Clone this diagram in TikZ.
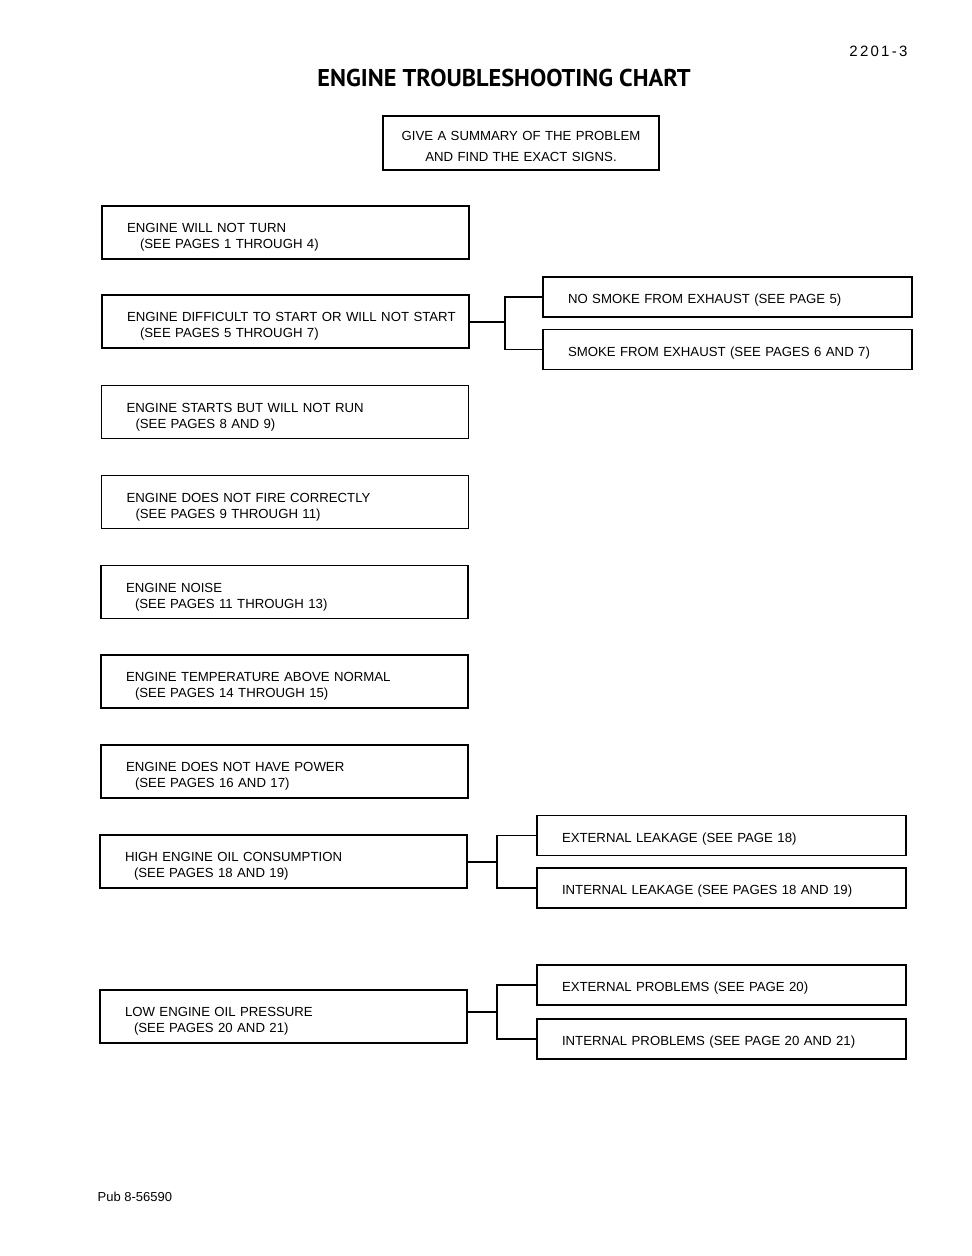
\documentclass[tikz,border=0pt]{standalone}
\usepackage{fontspec}
\setmainfont{Liberation Sans}
\newfontfamily\titlefont{PT Sans}
\begin{document}
\begin{tikzpicture}[x=1pt,y=-1pt,line width=1.2pt,
    box/.style={draw,rectangle,align=left,inner xsep=25pt,inner ysep=0pt,font=\fontsize{13.2}{16}\selectfont},
    leftbox/.style={box,text width=317pt,minimum height=53pt,execute at begin node={\rule{0pt}{19.5pt}}},
    rightbox/.style={box,text width=319pt,minimum height=40pt,execute at begin node={\rule{0pt}{16.5pt}}}]
    \useasboundingbox (0,0) rectangle (972,1256);

    \node[anchor=east,inner sep=0pt,font=\fontsize{15}{18}\selectfont\addfontfeature{LetterSpace=15}] (pagenum) at (908,51) {2201-3};
    \node[font=\titlefont\bfseries\fontsize{24.3}{28}\selectfont] (title) at (504,77.5) {ENGINE TROUBLESHOOTING CHART};
    \node[draw,align=center,text width=250pt,inner xsep=13pt,inner ysep=0pt,minimum height=54pt,font=\fontsize{13.2}{21}\selectfont,
        execute at begin node={\rule{0pt}{15.5pt}}] (summary) at (521,143) {GIVE A SUMMARY OF THE PROBLEM\\AND FIND THE EXACT SIGNS.};

    \foreach \n/\x/\y/\i/\a/\b in {
        1/285.5/232.5/13/ENGINE WILL NOT TURN/1 THROUGH 4,
        2/285.5/321.5/13/ENGINE DIFFICULT TO START OR WILL NOT START/5 THROUGH 7,
        3/285/412/9/ENGINE STARTS BUT WILL NOT RUN/8 AND 9,
        4/285/502/9/ENGINE DOES NOT FIRE CORRECTLY/9 THROUGH 11,
        5/284.5/592/9/ENGINE NOISE/11 THROUGH 13,
        6/284.5/681.5/9/ENGINE TEMPERATURE ABOVE NORMAL/14 THROUGH 15,
        7/284.5/771.5/9/ENGINE DOES NOT HAVE POWER/16 AND 17,
        8/283.5/861.5/9/HIGH ENGINE OIL CONSUMPTION/18 AND 19,
        9/283.5/1016.5/9/LOW ENGINE OIL PRESSURE/20 AND 21}{
        \node[leftbox] (lb\n) at (\x,\y) {\mbox{\a}\\\hspace*{\i pt}(SEE PAGES \b)};
    }

    \node[rightbox] (r1) at (727.5,297) {NO SMOKE FROM EXHAUST (SEE PAGE 5)};
    \node[rightbox] (r2) at (727.5,349.5) {SMOKE FROM EXHAUST (SEE PAGES 6 AND 7)};
    \node[rightbox] (r3) at (721.5,835.5) {EXTERNAL LEAKAGE (SEE PAGE 18)};
    \node[rightbox] (r4) at (721.5,888) {INTERNAL LEAKAGE (SEE PAGES 18 AND 19)};
    \node[rightbox] (r5) at (721.5,985) {EXTERNAL PROBLEMS (SEE PAGE 20)};
    \node[rightbox] (r6) at (721.5,1039) {INTERNAL PROBLEMS (SEE PAGE 20 AND 21)};

    \coordinate (j1) at (505,322);
    \coordinate (j2) at (497,862);
    \coordinate (j3) at (497,1012);

    \draw (j1 -| lb2.east) -- (j1);
    \draw (r1.west) -| (j1) |- (r2.west);
    \draw (j2 -| lb8.east) -- (j2);
    \draw (r3.west) -| (j2) |- (r4.west);
    \draw (j3 -| lb9.east) -- (j3);
    \draw (r5.west) -| (j3) |- (r6.west);

    \node[anchor=west,inner sep=0pt,font=\fontsize{13}{16}\selectfont] (pub) at (97,1197) {Pub 8-56590};
\end{tikzpicture}
\end{document}
